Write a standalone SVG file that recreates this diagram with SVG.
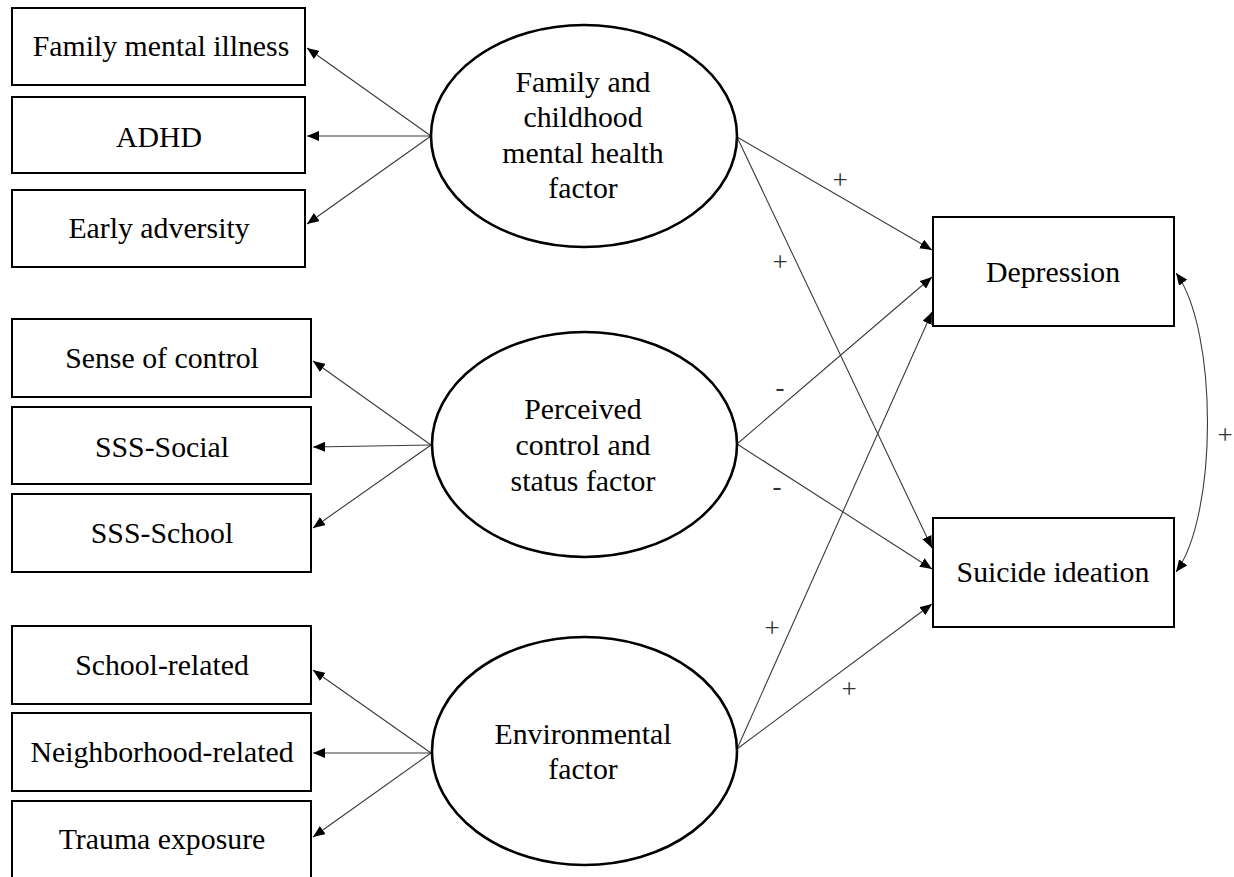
<svg xmlns="http://www.w3.org/2000/svg" width="1234" height="877" viewBox="0 0 1234 877">
<defs>
<marker id="arr" markerUnits="userSpaceOnUse" markerWidth="12" markerHeight="10" refX="12" refY="5" orient="auto-start-reverse" viewBox="0 0 12 10">
<path d="M0,0 L12,5 L0,10 z" fill="#000"/>
</marker>
<style>
.box{fill:#fff;stroke:#000;stroke-width:2}
.lat{fill:#fff;stroke:#000;stroke-width:2.6}
text{font-family:'Liberation Serif','Times New Roman',Times,serif}
.t{font-size:29.8px;fill:#000;text-anchor:middle}
.s{font-size:27px;fill:#333;text-anchor:middle}
.c{fill:none;stroke:#3a3a3a;stroke-width:1.1;marker-end:url(#arr)}
</style>
</defs>
<rect width="1234" height="877" fill="#fff"/>

<g id="connectors">
<line class="c" x1="431" y1="136" x2="307" y2="48"/>
<line class="c" x1="431" y1="136" x2="307" y2="136"/>
<line class="c" x1="431" y1="136" x2="307" y2="224"/>
<line class="c" x1="431" y1="445" x2="313" y2="361"/>
<line class="c" x1="431" y1="445" x2="313" y2="447"/>
<line class="c" x1="431" y1="445" x2="313" y2="528"/>
<line class="c" x1="431" y1="753" x2="313" y2="670"/>
<line class="c" x1="431" y1="753" x2="313" y2="753"/>
<line class="c" x1="431" y1="753" x2="313" y2="837"/>
<line class="c" x1="737" y1="137" x2="932" y2="250"/>
<line class="c" x1="737" y1="137" x2="932" y2="548"/>
<line class="c" x1="737" y1="444" x2="932" y2="277"/>
<line class="c" x1="737" y1="444" x2="932" y2="569"/>
<line class="c" x1="737" y1="749" x2="932" y2="312"/>
<line class="c" x1="737" y1="749" x2="932" y2="604"/>
<path class="c" d="M1176,273 C1218,330 1218,515 1176,572" style="marker-start:url(#arr)"/>
<text class="s" x="840" y="189">+</text>
<text class="s" x="780" y="271">+</text>
<text class="s" x="780" y="396">-</text>
<text class="s" x="777" y="495">-</text>
<text class="s" x="772" y="637">+</text>
<text class="s" x="849" y="698">+</text>
<text class="s" x="1225" y="444">+</text>
</g>

<g id="family_mental_illness"><rect class="box" x="12" y="8" width="293" height="77"/><text class="t" x="161" y="56">Family mental illness</text></g>
<g id="adhd"><rect class="box" x="12" y="97" width="293" height="76"/><text class="t" x="159" y="147">ADHD</text></g>
<g id="early_adversity"><rect class="box" x="12" y="190" width="293" height="77"/><text class="t" x="159" y="238">Early adversity</text></g>

<g id="sense_of_control"><rect class="box" x="12" y="319" width="299" height="78"/><text class="t" x="162" y="368">Sense of control</text></g>
<g id="sss_social"><rect class="box" x="12" y="407" width="299" height="77"/><text class="t" x="162" y="457">SSS-Social</text></g>
<g id="sss_school"><rect class="box" x="12" y="494" width="299" height="78"/><text class="t" x="162" y="543">SSS-School</text></g>

<g id="school_related"><rect class="box" x="12" y="626" width="299" height="78"/><text class="t" x="162" y="675">School-related</text></g>
<g id="neighborhood_related"><rect class="box" x="12" y="713" width="299" height="78"/><text class="t" x="162" y="762">Neighborhood-related</text></g>
<g id="trauma_exposure"><rect class="box" x="12" y="801" width="299" height="90"/><text class="t" x="162" y="849">Trauma exposure</text></g>

<g id="family_factor"><ellipse class="lat" cx="584" cy="136" rx="153" ry="111"/>
<text class="t" x="583" y="92">Family and</text>
<text class="t" x="583" y="127">childhood</text>
<text class="t" x="583" y="163">mental health</text>
<text class="t" x="583" y="198">factor</text></g>

<g id="control_factor"><ellipse class="lat" cx="584.5" cy="444.5" rx="152.5" ry="112.5"/>
<text class="t" x="583" y="419">Perceived</text>
<text class="t" x="583" y="455">control and</text>
<text class="t" x="583" y="491">status factor</text></g>

<g id="environmental_factor"><ellipse class="lat" cx="584.5" cy="751" rx="152.5" ry="114"/>
<text class="t" x="583" y="744">Environmental</text>
<text class="t" x="583" y="779">factor</text></g>

<g id="depression"><rect class="box" x="933" y="217" width="241" height="109"/><text class="t" x="1053" y="282">Depression</text></g>
<g id="suicide_ideation"><rect class="box" x="933" y="518" width="241" height="109"/><text class="t" x="1053" y="582">Suicide ideation</text></g>
</svg>
